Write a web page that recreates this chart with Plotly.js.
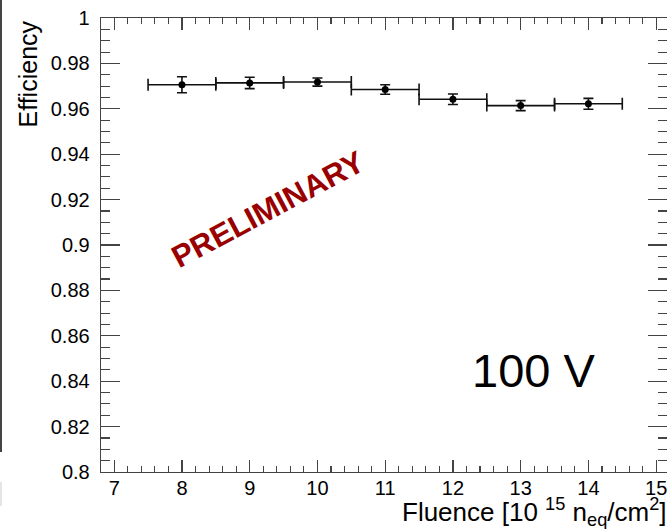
<!DOCTYPE html>
<html>
<head>
<meta charset="utf-8">
<script src="https://cdn.plot.ly/plotly-3.0.1.min.js"></script>
<style>html,body{margin:0;padding:0;background:#fff;}#chart{width:667px;height:529px;}</style>
</head>
<body>
<div id="chart"></div>
<script>
// Data
const fluence = [8, 9, 10, 11, 12, 13, 14];
const fluenceHalfWidth = [0.5, 0.5, 0.5, 0.5, 0.5, 0.5, 0.5];
const efficiency = [0.9706, 0.9714, 0.9718, 0.9685, 0.9642, 0.9614, 0.9622];
const efficiencyErr = [0.0035, 0.0025, 0.0018, 0.0021, 0.0023, 0.0022, 0.0024];
const xTitle = 'Fluence [10 <sup>15</sup> n<sub>eq</sub>/cm<sup>2</sup>]';
const yTitle = 'Efficiency';
const stamp = 'PRELIMINARY';
const voltage = '100 V';

const W = 667, H = 529;
const mL = 101, mR = 0, mT = 18, mB = 57;
const pw = W - mL - mR, ph = H - mT - mB;
const px = x => (x - mL) / pw;          // pixel -> paper x
const py = y => (H - mB - y) / ph;      // pixel -> paper y

const font = 'Liberation Sans, Arial, Helvetica, sans-serif';
const axCol = '#444';

const trace = {
  x: fluence, y: efficiency, type: 'scatter', mode: 'markers',
  marker: {color: '#000', size: 7},
  error_x: {type: 'data', array: fluenceHalfWidth, visible: true, color: '#111', thickness: 1.6, width: 6},
  error_y: {type: 'data', array: efficiencyErr, visible: true, color: '#111', thickness: 1.6, width: 5},
  hoverinfo: 'skip', showlegend: false
};

const axisCommon = {
  showgrid: false, zeroline: false, showline: true, linecolor: axCol, linewidth: 1.3,
  mirror: 'allticks', ticks: 'inside', tickcolor: axCol, tickwidth: 1.2,
  ticklabeloverflow: 'allow',
  tickfont: {family: font, size: 20, color: '#000'}
};

const layout = {
  width: W, height: H,
  margin: {l: mL, r: mR, t: mT, b: mB, pad: 0},
  paper_bgcolor: '#fff', plot_bgcolor: '#fff',
  xaxis: Object.assign({}, axisCommon, {
    range: [6.805, 15.16], dtick: 1, tick0: 7, ticklen: 12,
    minor: {dtick: 0.2, tick0: 7, ticklen: 6, ticks: 'inside', tickcolor: axCol, tickwidth: 1.1},
    ticklabelstandoff: -2
  }),
  yaxis: Object.assign({}, axisCommon, {
    range: [0.8, 1.0], dtick: 0.02, tick0: 0.8, ticklen: 19,
    minor: {dtick: 0.005, tick0: 0.8, ticklen: 9, ticks: 'inside', tickcolor: axCol, tickwidth: 1.1},
    ticklabelstandoff: 6
  }),
  annotations: [
    {text: yTitle, xref: 'paper', yref: 'paper', x: px(27), y: 1.0, xanchor: 'center', yanchor: 'top',
     textangle: -90, showarrow: false, font: {family: font, size: 25, color: '#000'}},
    {text: xTitle, xref: 'paper', yref: 'paper', x: px(669), y: py(512), xanchor: 'right', yanchor: 'middle',
     showarrow: false, font: {family: font, size: 26, color: '#000'}},
    {text: '<b>' + stamp + '</b>', xref: 'paper', yref: 'paper', x: px(268), y: py(210), xanchor: 'center', yanchor: 'middle',
     textangle: -28, showarrow: false, font: {family: font, size: 31, color: '#990000'}},
    {text: voltage, xref: 'paper', yref: 'paper', x: px(533), y: py(370), xanchor: 'center', yanchor: 'middle',
     showarrow: false, font: {family: font, size: 47, color: '#000'}}
  ],
  shapes: [
    {type: 'line', xref: 'paper', yref: 'paper', x0: px(1), x1: px(1), y0: py(0), y1: py(452), line: {color: '#444', width: 2}},
    {type: 'line', xref: 'paper', yref: 'paper', x0: px(1), x1: px(1), y0: py(482), y1: py(506), line: {color: '#ddd', width: 1.5}}
  ]
};

Plotly.newPlot('chart', [trace], layout, {staticPlot: true, displayModeBar: false});
</script>
</body>
</html>
